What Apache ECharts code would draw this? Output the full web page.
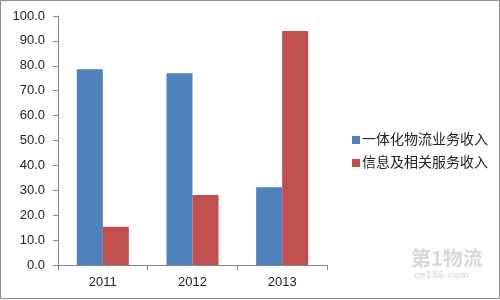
<!DOCTYPE html>
<html><head><meta charset="utf-8">
<script src="https://cdn.jsdelivr.net/npm/echarts@6/dist/echarts.min.js"></script>
<style>html,body{margin:0;padding:0;background:#fff}#c{width:500px;height:300px}</style>
</head><body><div id="c"></div>
<script>
var categories = ['2011', '2012', '2013'];
var seriesNames = ['一体化物流业务收入', '信息及相关服务收入'];
var logisticsValues = [78.6, 77.0, 31.2];
var infoValues = [15.4, 28.1, 94.0];

var chart = echarts.init(document.getElementById('c'), null, {renderer: 'canvas'});
var font = '"Liberation Sans", "Noto Sans CJK SC", sans-serif';
chart.setOption({
  animation: false,
  backgroundColor: '#fff',
  graphic: [
    {type: 'rect', shape: {x: 0.5, y: 0.5, width: 499, height: 298}, style: {fill: 'none', stroke: '#8c8c8c', lineWidth: 1}, z: 100},
    {type: 'text', left: 411, top: 248, style: {text: '第1物流', fill: '#d8d8d8', font: 'bold 20px "Noto Sans CJK SC"'}, z: 1},
    {type: 'text', left: 414, top: 271, style: {text: 'cn156.com', fill: '#e0e0e0', font: 'bold 9px "DejaVu Sans"'}, z: 1}
  ],
  grid: {left: 58, right: 173, top: 16, bottom: 35, containLabel: false},
  legend: {
    orient: 'vertical', left: 347, top: 128, itemWidth: 8, itemHeight: 8, itemGap: 9,
    icon: 'rect',
    textStyle: {fontSize: 14, color: '#222', fontFamily: font, padding: [0, 0, 0, -3]},
    data: seriesNames
  },
  xAxis: {
    type: 'category', data: categories,
    axisLine: {lineStyle: {color: '#868686'}},
    axisTick: {show: true, length: 5, lineStyle: {color: '#868686'}},
    axisLabel: {fontSize: 13, color: '#222', fontFamily: font, margin: 11}
  },
  yAxis: {
    type: 'value', min: 0, max: 100, interval: 10,
    axisLine: {show: true, lineStyle: {color: '#868686'}},
    axisTick: {show: true, length: 5, lineStyle: {color: '#868686'}},
    splitLine: {show: false},
    axisLabel: {fontSize: 13, color: '#222', fontFamily: font, margin: 13,
      formatter: function (v) { return v.toFixed(1); }}
  },
  series: [
    {name: seriesNames[0], type: 'bar', data: logisticsValues, itemStyle: {color: '#4f81bd'}, barGap: '0%', barCategoryGap: '42%'},
    {name: seriesNames[1], type: 'bar', data: infoValues, itemStyle: {color: '#c0504d'}}
  ]
});
</script>
</body></html>
